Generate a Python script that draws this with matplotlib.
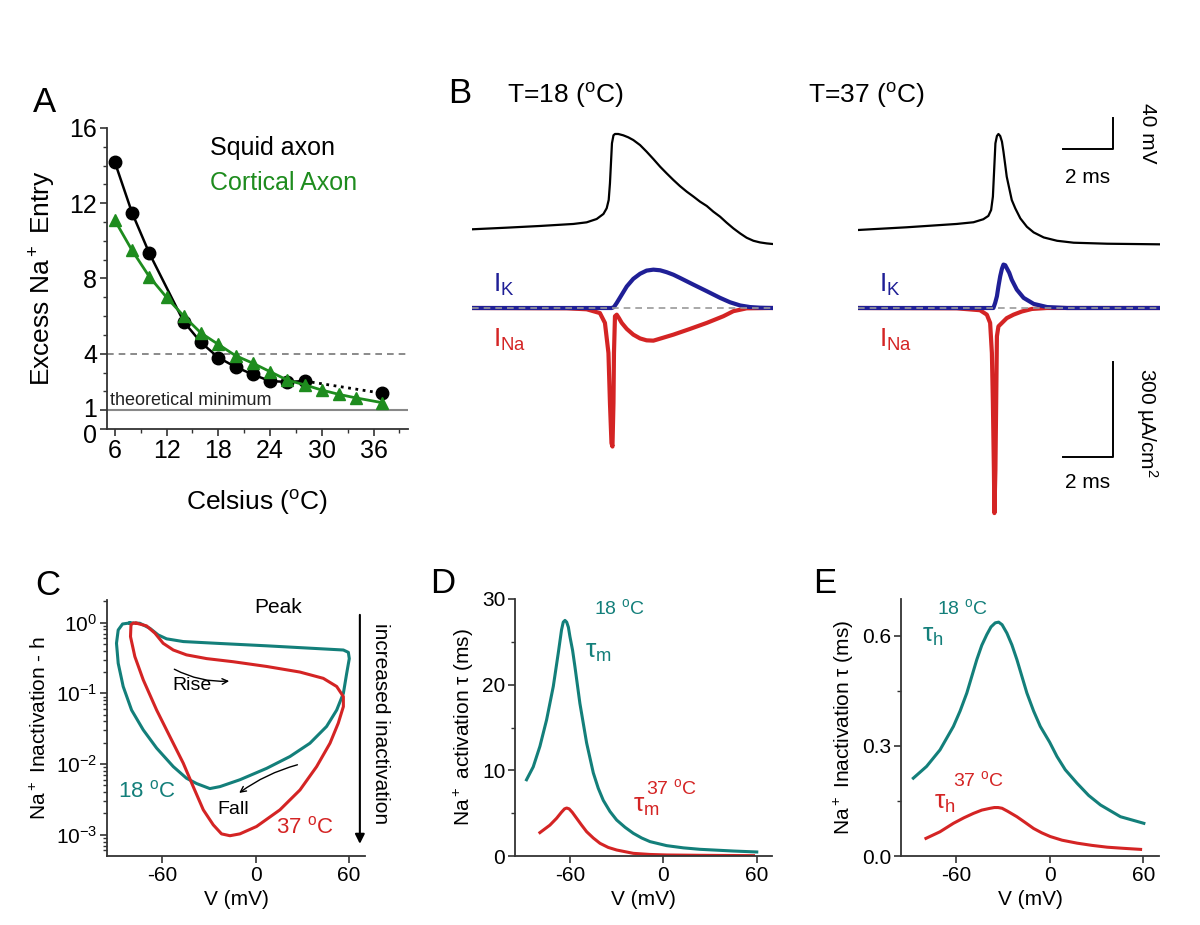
import matplotlib
matplotlib.use('Agg')
import matplotlib.pyplot as plt
import matplotlib.transforms as mtransforms
import numpy as np

plt.rcParams['font.family'] = ['Liberation Sans', 'DejaVu Sans']
plt.rcParams['mathtext.default'] = 'regular'
plt.rcParams['axes.unicode_minus'] = False

TEAL = '#137f7a'
RED = '#d42424'
BLUE = '#1f1f96'
GREEN = '#1e8c1e'
AXC = '#333333'

# ---- panel A: excess Na+ entry vs temperature
squid_t = [6, 8, 10, 14, 16, 18, 20, 22, 24, 26, 28, 37]
squid_n = [14.2, 11.5, 9.35, 5.7, 4.6, 3.8, 3.3, 2.9, 2.55, 2.5, 2.55, 1.9]
cortical_t = [6, 8, 10, 12, 14, 16, 18, 20, 22, 24, 26, 28, 30, 32, 34, 37]
cortical_n = [11.1, 9.5, 8.1, 7.0, 6.0, 5.1, 4.5, 3.9, 3.5, 3.05, 2.6, 2.35, 2.07, 1.84, 1.65, 1.4]

# ---- panel B: action potentials and currents (ms, mV, uA/cm2)
v18_t = [0.0, 1.38, 2.71, 4.04, 4.57, 4.97, 5.24, 5.37, 5.45, 5.50, 5.54, 5.58, 5.64, 5.70,
         5.83, 6.03, 6.23, 6.43, 6.70, 6.96, 7.23, 7.50, 7.76, 8.03, 8.29, 8.56, 8.83, 9.09,
         9.36, 9.62, 9.89, 10.15, 10.42, 10.69, 10.95, 11.22, 11.48, 11.75, 12.0]
v18_v = [-70.4, -68.3, -66.1, -63.5, -61.4, -57.1, -50.6, -43.2, -32.5, -11.0, 14.9, 40.6, 50.9, 52.6,
         52.6, 50.9, 48.3, 44.8, 38.3, 29.8, 20.3, 10.4, 1.8, -6.8, -14.6, -21.8, -28.2, -34.7,
         -40.3, -47.6, -54.1, -61.8, -69.2, -75.7, -81.3, -85.2, -87.3, -88.6, -89.4]
ik18_t = [0, 5.57, 5.66, 5.77, 5.97, 6.17, 6.43, 6.70, 6.96, 7.23, 7.50, 7.76, 8.03, 8.29,
          8.82, 9.36, 9.89, 10.29, 10.69, 11.08, 11.48, 12.0]
ik18_i = [0, 0, 3, 16, 42, 68, 92, 108, 118, 121, 119, 113, 105, 95,
          74, 53, 32, 18, 8, 3, 1, 0]
ina18_t = [0, 3.77, 4.57, 5.10, 5.30, 5.44, 5.50, 5.56, 5.60, 5.64, 5.66, 5.70, 5.77, 5.86,
           5.97, 6.17, 6.43, 6.70, 6.96, 7.23, 7.36, 8.03, 8.69, 9.36, 10.02, 10.42, 10.95, 12.0]
ina18_i = [0, -1, -4, -16, -47, -142, -300, -426, -437, -300, -142, -26, -21, -32,
           -47, -66, -84, -96, -102, -103, -100, -84, -66, -47, -26, -10, -1, 0]

v37_t = [0, 1.93, 3.92, 4.59, 4.98, 5.18, 5.29, 5.36, 5.41, 5.46, 5.52, 5.58, 5.65, 5.72,
         5.78, 5.85, 5.91, 6.01, 6.11, 6.25, 6.45, 6.71, 6.98, 7.38, 7.91, 8.57, 9.90, 12.03]
v37_v = [-71.3, -67.8, -63.5, -61.3, -57.4, -53.1, -45.4, -28.2, 6.1, 40.5, 50.0, 52.6, 50.0, 42.7,
         29.8, 12.6, -2.5, -17.6, -32.6, -43.4, -56.3, -67.1, -74.4, -80.9, -85.2, -87.7, -89.0, -89.8]
ik37_t = [0, 5.38, 5.45, 5.52, 5.58, 5.65, 5.72, 5.78, 5.85, 5.91, 6.01, 6.11, 6.31, 6.58,
          6.98, 7.51, 8.31, 12.0]
ik37_i = [0, 0, 16, 37, 68, 100, 124, 137, 135, 126, 111, 89, 58, 32,
          13, 3, 0, 0]
ina37_t = [0, 3.92, 4.85, 5.12, 5.25, 5.32, 5.36, 5.40, 5.42, 5.46, 5.49, 5.52, 5.58, 5.72,
           5.91, 6.18, 6.51, 6.91, 7.51, 12.0]
ina37_i = [0, -1, -7, -21, -47, -142, -300, -511, -647, -511, -300, -89, -58, -47,
           -32, -21, -11, -3, 0, 0]

# ---- panel C: h vs V trajectories
c18_v = [-80.8, -74.4, -67.9, -62.6, -57.2, -46.5, -25.1, 7.1, 39.2, 56.4, 59.6, 60.2, 58.5, 56.4,
         52.1, 45.6, 34.9, 22.1, 7.1, -10.1, -22.9, -29.4, -37.9, -44.4, -52.9, -63.6, -72.2,
         -79.7, -85.1, -88.3, -89.4, -88.3, -85.5, -80.8]
c18_h = [0.99, 0.98, 0.83, 0.67, 0.59, 0.54, 0.51, 0.47, 0.43, 0.41, 0.38, 0.31, 0.19, 0.10,
         0.058, 0.034, 0.0197, 0.0128, 0.0087, 0.0060, 0.0048, 0.0045, 0.0053, 0.0063, 0.0092,
         0.0168, 0.0304, 0.058, 0.125, 0.266, 0.511, 0.787, 0.957, 0.99]
c37_v = [-76.5, -70.1, -64.7, -59.4, -52.9, -44.4, -31.5, -14.4, 7.1, 28.5, 43.5, 52.1, 56.4, 56.4,
         53.1, 47.8, 39.2, 28.5, 15.6, 0.6, -10.1, -16.5, -21.9, -27.2, -33.6, -40.1, -46.5,
         -55.1, -63.6, -72.2, -77.6, -80.4, -80.1, -78.6, -76.5]
c37_h = [0.98, 0.90, 0.71, 0.51, 0.41, 0.35, 0.31, 0.28, 0.24, 0.20, 0.163, 0.125, 0.090, 0.065,
         0.0378, 0.0197, 0.0092, 0.0043, 0.00225, 0.00131, 0.00103, 0.00097, 0.00103, 0.00138,
         0.00225, 0.0048, 0.0103, 0.0245, 0.058, 0.155, 0.331, 0.634, 0.93, 0.99, 0.98]

# ---- panel D: tau_m
taum18_v = [-87.9, -83.6, -79.3, -75.0, -70.7, -67.5, -65.4, -64.3, -63.2, -62.1, -61.0, -60.0,
            -58.3, -56.8, -53.6, -49.3, -45.0, -41.8, -38.6, -34.3, -30.0, -24.6, -19.3, -13.9,
            -8.6, 2.1, 12.9, 23.6, 45.0, 60.0]
taum18 = [8.9, 10.4, 12.8, 15.9, 19.8, 23.7, 26.4, 27.3, 27.5, 27.3, 26.7, 25.6,
          24.0, 22.1, 17.8, 13.2, 9.7, 7.9, 6.5, 5.2, 4.2, 3.35, 2.65, 2.1,
          1.68, 1.21, 0.95, 0.78, 0.58, 0.47]
taum37_v = [-79.3, -72.9, -68.6, -65.5, -63.5, -62.1, -60.5, -58.5, -55.7, -52.5, -49.3, -45.0,
            -40.7, -35.4, -30.0, -19.3, -8.6, 2.1, 23.6, 57.9]
taum37 = [2.73, 3.6, 4.4, 5.1, 5.5, 5.6, 5.5, 5.1, 4.4, 3.6, 2.84, 2.1,
          1.48, 1.0, 0.70, 0.31, 0.18, 0.12, 0.08, 0.04]

# ---- panel E: tau_h
tauh18_v = [-87.4, -78.9, -70.3, -61.7, -57.4, -53.1, -46.7, -43.5, -40.3, -37.6, -34.9, -32.7,
            -30.5, -27.4, -24.2, -21.0, -14.6, -10.3, -6.0, 0.0, 4.7, 10.0, 17.6, 25.0, 32.6, 45.4, 60.4]
tauh18 = [0.212, 0.244, 0.289, 0.353, 0.395, 0.444, 0.535, 0.574, 0.603, 0.624, 0.635, 0.637,
          0.630, 0.607, 0.575, 0.535, 0.444, 0.395, 0.353, 0.31, 0.271, 0.235, 0.198, 0.165, 0.139, 0.107, 0.089]
tauh37_v = [-79.3, -70.3, -61.7, -55.0, -48.9, -43.5, -38.1, -35.5, -33.0, -30.5, -27.0, -21.0,
            -15.6, -10.3, -5.0, 0.4, 8.0, 17.6, 27.0, 36.9, 47.0, 58.3]
tauh37 = [0.048, 0.066, 0.089, 0.104, 0.116, 0.125, 0.130, 0.132, 0.132, 0.130, 0.122, 0.107,
          0.091, 0.075, 0.063, 0.053, 0.043, 0.035, 0.029, 0.024, 0.021, 0.018]


def style_axes(ax, size):
    for s in ['top', 'right']:
        ax.spines[s].set_visible(False)
    for s in ['left', 'bottom']:
        ax.spines[s].set_color(AXC)
        ax.spines[s].set_linewidth(1.3)
    ax.tick_params(which='major', direction='out', length=5, width=1.2, color=AXC, labelsize=size, pad=2)
    ax.tick_params(which='minor', direction='out', length=3, width=1.0, color=AXC)


W, H = 1200, 925
fig = plt.figure(figsize=(12, 9.25), dpi=100)


def rect(l, t, r, b):
    return [l / W, 1 - b / H, (r - l) / W, (b - t) / H]


# ================= A
axA = fig.add_axes(rect(107, 128, 408, 429))
style_axes(axA, 18)
axA.axhline(1, color='#888888', lw=1.5, zorder=1)
axA.axhline(4, color='#777777', lw=1.2, ls=(0, (4, 3)), zorder=1)
axA.plot(squid_t[:-1], squid_n[:-1], color='k', lw=1.8, zorder=2)
axA.plot(squid_t[-2:], squid_n[-2:], color='k', lw=2, ls=':', zorder=2)
axA.plot(squid_t, squid_n, 'o', color='k', ms=9, zorder=3)
axA.plot(cortical_t, cortical_n, color=GREEN, lw=2, marker='^', ms=9, zorder=4)
axA.set_xlim(5.1, 40)
axA.set_ylim(0, 16)
axA.set_xticks([6, 12, 18, 24, 30, 36])
axA.set_xticks([9, 15, 21, 27, 33, 39], minor=True)
axA.set_yticks([0, 1, 4, 8, 12, 16])
axA.set_yticks([2, 3, 5, 6, 7, 9, 10, 11, 13, 14, 15], minor=True)
# nudge the crowded 0 / 1 labels apart
ylabs = axA.get_yticklabels()
ylabs[0].set_transform(ylabs[0].get_transform() + mtransforms.ScaledTranslation(0, -5 / 100, fig.dpi_scale_trans))
ylabs[1].set_transform(ylabs[1].get_transform() + mtransforms.ScaledTranslation(0, 3 / 100, fig.dpi_scale_trans))
axA.set_xlabel('Celsius ($^o$C)', fontsize=19, labelpad=18)
axA.set_ylabel('Excess Na$^+$ Entry', fontsize=19, labelpad=8)
axA.text(17.0, 14.57, 'Squid axon', fontsize=18, color='k')
axA.text(17.0, 12.7, 'Cortical Axon', fontsize=18, color=GREEN)
axA.text(5.4, 1.28, 'theoretical minimum', fontsize=13, color='#222222')


# ================= B
def trace_col(l, r, vt, vv, kt, ki, nt, ni):
    va = fig.add_axes(rect(l, 100, r, 520))
    ia = fig.add_axes(rect(l, 100, r, 520))
    for a in (va, ia):
        a.axis('off')
        a.set_xlim(0, 12)
    va.set_ylim(-445.5, 96.45)
    ia.set_ylim(-668.8, 656.2)
    va.plot(vt, vv, color='k', lw=1.6)
    ia.plot(nt, ni, color=RED, lw=3, solid_joinstyle='round')
    ia.plot(kt, ki, color=BLUE, lw=3, solid_joinstyle='round')
    ia.plot([0, 12], [0, 0], color='#999999', lw=1.2, ls=(0, (4, 3)))
    ia.text(0.85, 50, '$I_{K}$', color=BLUE, fontsize=19, ha='left', va='baseline')
    ia.text(0.85, -123, '$I_{Na}$', color=RED, fontsize=19, ha='left', va='baseline')
    return va, ia


trace_col(472, 773, v18_t, v18_v, ik18_t, ik18_i, ina18_t, ina18_i)
vaR, iaR = trace_col(858, 1160, v37_t, v37_v, ik37_t, ik37_i, ina37_t, ina37_i)
# scale bars
vaR.plot([8.13, 10.13, 10.13], [33.2, 33.2, 73.2], color='k', lw=1.4)
vaR.text(9.13, -4, '2 ms', fontsize=15, ha='center', va='center')
vaR.text(11.5, 53, '40 mV', fontsize=15, ha='center', va='center', rotation=270)
iaR.plot([8.13, 10.13, 10.13], [-470, -470, -170], color='k', lw=1.4)
iaR.text(9.13, -549, '2 ms', fontsize=15, ha='center', va='center')
iaR.text(11.5, -363, '300 µA/cm$^2$', fontsize=15, ha='center', va='center', rotation=270)

fig.text(448 / W, 1 - 103 / H, 'B', fontsize=25)
fig.text(507 / W, 1 - 103 / H, 'T=18 ($^o$C)', fontsize=19)
fig.text(808 / W, 1 - 103 / H, 'T=37 ($^o$C)', fontsize=19)
fig.text(33 / W, 1 - 112 / H, 'A', fontsize=25)

# ================= C
axC = fig.add_axes(rect(107, 600, 365, 856))
style_axes(axC, 15)
axC.set_yscale('log')
axC.plot(c18_v, c18_h, color=TEAL, lw=2.2, solid_joinstyle='round')
axC.plot(c37_v, c37_h, color=RED, lw=2.2, solid_joinstyle='round')
axC.set_xlim(-95.5, 70.3)
axC.set_ylim(10 ** -3.3, 10 ** 0.32)
axC.set_xticks([-60, 0, 60])
axC.set_xlabel('V (mV)', fontsize=15, labelpad=4)
axC.set_ylabel('Na$^+$ Inactivation - h', fontsize=15, labelpad=4)
axC.text(14.4, 1.62, 'Peak', fontsize=15, ha='center', va='center')
axC.text(-40.8, 0.128, 'Rise', fontsize=14, ha='center', va='center')
axC.annotate('', xy=(-15.2, 0.15), xytext=(-53.8, 0.229),
             arrowprops=dict(arrowstyle='->', lw=1, color='k', connectionstyle='arc3,rad=0.15'))
axC.text(-14.6, 0.00226, 'Fall', fontsize=14, ha='center', va='center')
axC.annotate('', xy=(-12.0, 0.0037), xytext=(28.6, 0.01),
             arrowprops=dict(arrowstyle='->', lw=1, color='k', connectionstyle='arc3,rad=0.1'))
axC.text(-69.8, 0.0041, '18 $^o$C', fontsize=16, color=TEAL, ha='center', va='center')
axC.text(31.7, 0.00126, '37 $^o$C', fontsize=16, color=RED, ha='center', va='center')
axC.annotate('', xy=(67, 0.00068), xytext=(67, 1.41), annotation_clip=False,
             arrowprops=dict(arrowstyle='-|>', lw=1.5, color='k', mutation_scale=14))
axC.text(80, 0.038, 'increased inactivation', fontsize=15, rotation=270,
         ha='center', va='center', clip_on=False)
fig.text(35 / W, 1 - 595 / H, 'C', fontsize=25)

# ================= D
axD = fig.add_axes(rect(515, 599, 771.7, 856))
style_axes(axD, 15)
axD.plot(taum18_v, taum18, color=TEAL, lw=2.2, solid_joinstyle='round')
axD.plot(taum37_v, taum37, color=RED, lw=2.2, solid_joinstyle='round')
axD.set_xlim(-95.3, 69.6)
axD.set_ylim(0, 30)
axD.set_xticks([-60, 0, 60])
axD.set_yticks([0, 10, 20, 30])
axD.set_yticks([5, 15, 25], minor=True)
axD.set_xlabel('V (mV)', fontsize=15, labelpad=4)
axD.set_ylabel('Na$^+$ activation τ (ms)', fontsize=15, labelpad=4)
axD.text(-42, 23.8, '$τ_{m}$', color=TEAL, fontsize=19, ha='center', va='center')
axD.text(-28, 29.0, '18 $^o$C', color=TEAL, fontsize=14, ha='center', va='center')
axD.text(-11, 5.8, '$τ_{m}$', color=RED, fontsize=19, ha='center', va='center')
axD.text(5, 7.9, '37 $^o$C', color=RED, fontsize=14, ha='center', va='center')
fig.text(430 / W, 1 - 593 / H, 'D', fontsize=25)

# ================= E
axE = fig.add_axes(rect(901, 599, 1159.3, 856))
style_axes(axE, 15)
axE.plot(tauh18_v, tauh18, color=TEAL, lw=2.2, solid_joinstyle='round')
axE.plot(tauh37_v, tauh37, color=RED, lw=2.2, solid_joinstyle='round')
axE.set_xlim(-95.3, 70.3)
axE.set_ylim(0, 0.7)
axE.set_xticks([-60, 0, 60])
axE.set_yticks([0.0, 0.3, 0.6])
axE.set_yticks([0.15, 0.45], minor=True)
axE.yaxis.set_major_formatter(plt.FormatStrFormatter('%.1f'))
axE.set_xlabel('V (mV)', fontsize=15, labelpad=4)
axE.set_ylabel('Na$^+$ Inactivation τ (ms)', fontsize=15, labelpad=4)
axE.text(-75, 0.60, '$τ_{h}$', color=TEAL, fontsize=19, ha='center', va='center')
axE.text(-56, 0.675, '18 $^o$C', color=TEAL, fontsize=14, ha='center', va='center')
axE.text(-67, 0.145, '$τ_{h}$', color=RED, fontsize=19, ha='center', va='center')
axE.text(-46, 0.208, '37 $^o$C', color=RED, fontsize=14, ha='center', va='center')
fig.text(813 / W, 1 - 593 / H, 'E', fontsize=25)

fig.savefig('out.png', dpi=100)
